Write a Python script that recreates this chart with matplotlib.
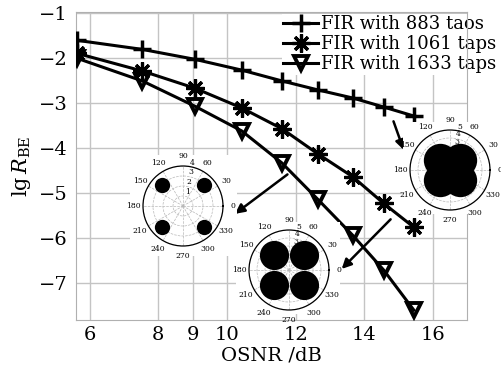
import matplotlib
matplotlib.use("Agg")
import matplotlib.pyplot as plt
from matplotlib.patches import Rectangle
import numpy as np

plt.rcParams['font.family'] = ['DejaVu Serif']
plt.rcParams['mathtext.fontset'] = 'dejavuserif'

# OSNR points (dB)
osnr = [5.64, 7.53, 9.06, 10.43, 11.60, 12.65, 13.67, 14.57, 15.45]
# lg(BER) for each filter length
ber_883 = [-1.61, -1.81, -2.03, -2.27, -2.51, -2.71, -2.89, -3.09, -3.29]
ber_1061 = [-1.90, -2.29, -2.67, -3.11, -3.57, -4.13, -4.64, -5.23, -5.76]
ber_1633 = [-2.01, -2.51, -3.07, -3.62, -4.33, -5.14, -5.94, -6.71, -7.60]
labels = ['FIR with 883 taos', 'FIR with 1061 taps', 'FIR with 1633 taps']

xticks = [6, 8, 9, 10, 12, 14, 16]
yticks = [-1, -2, -3, -4, -5, -6, -7]

# arrows: (start x, start y, end x, end y) in data units
arrows = [(14.83, -3.35, 15.18, -4.10),
          (11.83, -4.55, 10.17, -5.50),
          (14.83, -5.54, 13.29, -6.73)]

# constellation insets: cluster radius, cluster blob size, r max
cl_angles = [45, 135, 225, 315]
cl_radius = [2.9, 2.65, 1.8]
cl_size = [11, 21, 24]
cl_rmax = [4, 5, 5]
theta_labels = ['0', '30', '60', '90', '120', '150', '180', '210', '240', '270', '300', '330']

W, H = 502, 372
fig = plt.figure(figsize=(W / 100, H / 100), dpi=100)
ax = fig.add_axes([76 / W, 1 - 320 / H, (467 - 76) / W, (320 - 12) / H])
ax.set_axisbelow(True)

ax.plot(osnr, ber_883, color='k', lw=2.2, marker='+', ms=13, mew=2.5, label=labels[0], zorder=3)
ax.plot(osnr, ber_1061, color='k', lw=2.2, marker=(8, 2, 0), ms=13, mew=2.3, label=labels[1], zorder=3)
ax.plot(osnr, ber_1633, color='k', lw=2.2, marker='v', ms=9.5, mew=2.8, mfc='none', label=labels[2], zorder=3)

ax.set_xlim(5.6, 17)
ax.set_ylim(-7.82, -0.98)
ax.set_xticks(xticks)
ax.set_yticks(yticks)
ax.set_yticklabels(['\u2212%d' % abs(v) for v in yticks])
ax.tick_params(length=0, labelsize=14, pad=6)
ax.tick_params(axis='x', pad=4)
ax.grid(True, color='#c4c4c4', lw=1)
for s in ax.spines.values():
    s.set_color('#b0b0b0')
ax.set_xlabel('OSNR /dB', fontsize=14, labelpad=2)
ax.set_ylabel(r'$\mathrm{lg}\,R_{\mathrm{BE}}$', fontsize=15, labelpad=4)

leg = ax.legend(loc='upper right', bbox_to_anchor=(1.103, 1.024), fontsize=13,
                handlelength=1.9, handletextpad=0.2, labelspacing=0.1,
                borderpad=0.1, frameon=True, fancybox=False)
leg.get_frame().set_edgecolor('none')
leg.get_frame().set_facecolor('white')
leg.get_frame().set_alpha(1)
leg.set_zorder(1)

for x0, y0, x1, y1 in arrows:
    ax.annotate('', xy=(x1, y1), xytext=(x0, y0),
                arrowprops=dict(arrowstyle='-|>', color='k', lw=1.8, mutation_scale=14))

# white backing + polar insets (pixel boxes)
backs = [(130, 155, 237, 256), (236, 222, 340, 314), (403, 122, 501, 214)]
centers = [(183, 206), (289, 270), (450, 170)]
rad = 40
for i, (cx, cy) in enumerate(centers):
    bx0, by0, bx1, by1 = backs[i]
    fig.patches.append(Rectangle((bx0 / W, 1 - by1 / H), (bx1 - bx0) / W, (by1 - by0) / H,
                                 transform=fig.transFigure, facecolor='white',
                                 edgecolor='none', zorder=0.5))
    pax = fig.add_axes([(cx - rad) / W, 1 - (cy + rad) / H, 2 * rad / W, 2 * rad / H],
                       projection='polar', zorder=1)
    pax.patch.set_alpha(0)
    th = np.deg2rad(cl_angles)
    pax.plot(th, [cl_radius[i]] * 4, 'o', color='k', ms=cl_size[i], mew=0)
    pax.set_rmax(cl_rmax[i])
    pax.set_rticks(list(range(1, cl_rmax[i] + 1)))
    pax.set_rlabel_position(80)
    pax.set_thetagrids(range(0, 360, 30), theta_labels)
    pax.tick_params(labelsize=5.5, pad=-3.5)
    pax.grid(True, color='#b8b8b8', lw=0.5, ls='--')
    pax.spines['polar'].set_linewidth(0.9)

fig.savefig('out.png', dpi=100)
